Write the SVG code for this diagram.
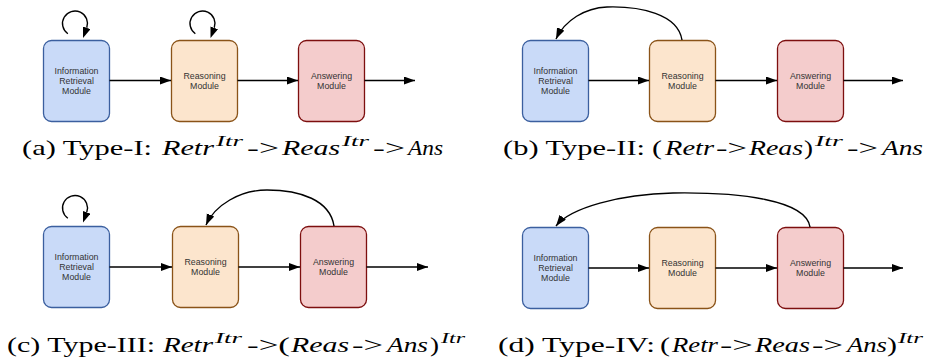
<svg xmlns="http://www.w3.org/2000/svg" width="934" height="362" viewBox="0 0 934 362">
<style>
.box{stroke-width:1.3}
.ir{fill:#c9daf8;stroke:#3b5f9f}
.rs{fill:#fce5cd;stroke:#8a5318}
.an{fill:#f4cccc;stroke:#7d0f0f}
.lbl{font-family:"Liberation Sans",Arial,sans-serif;font-size:8.8px;fill:#333;text-anchor:middle}
.edge{fill:none;stroke:#000;stroke-width:1.4}
.cap{font-family:"Liberation Serif","Times New Roman",serif;font-size:22px;fill:#000}
.it{font-style:italic}
.sup{font-style:italic;font-size:15px}
</style>
<defs>
<marker id="ah" markerUnits="userSpaceOnUse" markerWidth="12" markerHeight="10" refX="11" refY="4" orient="auto">
<path d="M0,0 L11,4 L0,8 z" fill="#000"/>
</marker>
<marker id="ahb" markerUnits="userSpaceOnUse" markerWidth="12" markerHeight="10" refX="0" refY="4" orient="auto">
<path d="M0,0 L11,4 L0,8 z" fill="#000"/>
</marker>
</defs>

<!-- Panel (a) -->
<g id="a-retr"><rect class="box ir" x="43.5" y="40.5" width="66" height="81" rx="8"/><text class="lbl" x="76.5" y="74">Information</text><text class="lbl" x="76.5" y="84">Retrieval</text><text class="lbl" x="76.5" y="94">Module</text></g>
<g id="a-reas"><rect class="box rs" x="171.5" y="40.5" width="66" height="81" rx="8"/><text class="lbl" x="204.5" y="79">Reasoning</text><text class="lbl" x="204.5" y="89">Module</text></g>
<g id="a-ans"><rect class="box an" x="298.5" y="40.5" width="66" height="81" rx="8"/><text class="lbl" x="331.5" y="79">Answering</text><text class="lbl" x="331.5" y="89">Module</text></g>

<!-- Panel (b) -->
<g id="b-retr"><rect class="box ir" x="522.5" y="40.5" width="66" height="81" rx="8"/><text class="lbl" x="555.5" y="74">Information</text><text class="lbl" x="555.5" y="84">Retrieval</text><text class="lbl" x="555.5" y="94">Module</text></g>
<g id="b-reas"><rect class="box rs" x="649.5" y="40.5" width="66" height="81" rx="8"/><text class="lbl" x="682.5" y="79">Reasoning</text><text class="lbl" x="682.5" y="89">Module</text></g>
<g id="b-ans"><rect class="box an" x="777.5" y="40.5" width="66" height="81" rx="8"/><text class="lbl" x="810.5" y="79">Answering</text><text class="lbl" x="810.5" y="89">Module</text></g>

<!-- Panel (c) -->
<g id="c-retr"><rect class="box ir" x="43.5" y="226.5" width="66" height="81" rx="8"/><text class="lbl" x="76.5" y="260">Information</text><text class="lbl" x="76.5" y="270">Retrieval</text><text class="lbl" x="76.5" y="280">Module</text></g>
<g id="c-reas"><rect class="box rs" x="172.5" y="226.5" width="66" height="81" rx="8"/><text class="lbl" x="205.5" y="265">Reasoning</text><text class="lbl" x="205.5" y="275">Module</text></g>
<g id="c-ans"><rect class="box an" x="300.5" y="226.5" width="66" height="81" rx="8"/><text class="lbl" x="333.5" y="265">Answering</text><text class="lbl" x="333.5" y="275">Module</text></g>

<!-- Panel (d) -->
<g id="d-retr"><rect class="box ir" x="522.5" y="227.5" width="66" height="81" rx="8"/><text class="lbl" x="555.5" y="261">Information</text><text class="lbl" x="555.5" y="271">Retrieval</text><text class="lbl" x="555.5" y="281">Module</text></g>
<g id="d-reas"><rect class="box rs" x="649.5" y="227.5" width="66" height="81" rx="8"/><text class="lbl" x="682.5" y="266">Reasoning</text><text class="lbl" x="682.5" y="276">Module</text></g>
<g id="d-ans"><rect class="box an" x="777.5" y="227.5" width="66" height="81" rx="8"/><text class="lbl" x="810.5" y="266">Answering</text><text class="lbl" x="810.5" y="276">Module</text></g>

<g id="connectors">
<!-- (a) -->
<path class="edge" d="M109.5,80.5 H171" marker-end="url(#ah)"/>
<path class="edge" d="M237.5,80.5 H298" marker-end="url(#ah)"/>
<path class="edge" d="M364.5,80.5 H415" marker-end="url(#ah)"/>
<path class="edge" d="M67.83,33.74 A12.5,12.5 0 1 1 86.75,27.78" marker-end="url(#ahb)"/>
<path class="edge" d="M195.33,33.74 A12.5,12.5 0 1 1 214.25,27.78" marker-end="url(#ahb)"/>
<!-- (b) -->
<path class="edge" d="M588.5,80.5 H649" marker-end="url(#ah)"/>
<path class="edge" d="M715.5,80.5 H777" marker-end="url(#ah)"/>
<path class="edge" d="M843.5,80.5 H903" marker-end="url(#ah)"/>
<path class="edge" d="M682,40 C678,14 640,6 607,7 C585,8 565,20 556,39" marker-end="url(#ah)"/>
<!-- (c) -->
<path class="edge" d="M109.5,267 H172" marker-end="url(#ah)"/>
<path class="edge" d="M238.5,267 H300" marker-end="url(#ah)"/>
<path class="edge" d="M366.5,267 H428" marker-end="url(#ah)"/>
<path class="edge" d="M67.83,218.24 A12.5,12.5 0 1 1 86.75,212.28" marker-end="url(#ahb)"/>
<path class="edge" d="M334,226 C330,200 300,190 267,190 C240,190 215,205 206,225" marker-end="url(#ah)"/>
<!-- (d) -->
<path class="edge" d="M588.5,268 H649" marker-end="url(#ah)"/>
<path class="edge" d="M715.5,268 H777" marker-end="url(#ah)"/>
<path class="edge" d="M843.5,268 H903" marker-end="url(#ah)"/>
<path class="edge" d="M810,227 C806,200 740,192 673,193 C620,194 570,208 556,226" marker-end="url(#ah)"/>
</g>

<g id="captions">
<text class="cap" y="155"><tspan x="22" textLength="130" lengthAdjust="spacingAndGlyphs">(a) Type-I:</tspan><tspan class="it" x="162" textLength="52" lengthAdjust="spacingAndGlyphs">Retr</tspan><tspan class="sup" x="216" y="146" textLength="27" lengthAdjust="spacingAndGlyphs">Itr</tspan><tspan x="247" y="155" textLength="32" lengthAdjust="spacingAndGlyphs">-&gt;</tspan><tspan class="it" x="282" textLength="58" lengthAdjust="spacingAndGlyphs">Reas</tspan><tspan class="sup" x="342" y="146" textLength="27" lengthAdjust="spacingAndGlyphs">Itr</tspan><tspan x="373" y="155" textLength="32" lengthAdjust="spacingAndGlyphs">-&gt;</tspan><tspan class="it" x="408" textLength="35" lengthAdjust="spacingAndGlyphs">Ans</tspan></text>
<text class="cap" y="155"><tspan x="503" textLength="142" lengthAdjust="spacingAndGlyphs">(b) Type-II:</tspan><tspan x="652" textLength="10" lengthAdjust="spacingAndGlyphs">(</tspan><tspan class="it" x="665" textLength="49" lengthAdjust="spacingAndGlyphs">Retr</tspan><tspan x="716" textLength="31" lengthAdjust="spacingAndGlyphs">-&gt;</tspan><tspan class="it" x="749" textLength="54" lengthAdjust="spacingAndGlyphs">Reas</tspan><tspan x="804" textLength="9" lengthAdjust="spacingAndGlyphs">)</tspan><tspan class="sup" x="815" y="146" textLength="28" lengthAdjust="spacingAndGlyphs">Itr</tspan><tspan x="847" y="155" textLength="31" lengthAdjust="spacingAndGlyphs">-&gt;</tspan><tspan class="it" x="882" textLength="41" lengthAdjust="spacingAndGlyphs">Ans</tspan></text>
<text class="cap" y="352"><tspan x="7" textLength="148" lengthAdjust="spacingAndGlyphs">(c) Type-III:</tspan><tspan class="it" x="163" textLength="50" lengthAdjust="spacingAndGlyphs">Retr</tspan><tspan class="sup" x="215" y="343" textLength="27" lengthAdjust="spacingAndGlyphs">Itr</tspan><tspan x="247" y="352" textLength="43" lengthAdjust="spacingAndGlyphs">-&gt;(</tspan><tspan class="it" x="291" textLength="58" lengthAdjust="spacingAndGlyphs">Reas</tspan><tspan x="352" textLength="31" lengthAdjust="spacingAndGlyphs">-&gt;</tspan><tspan class="it" x="387" textLength="41" lengthAdjust="spacingAndGlyphs">Ans</tspan><tspan x="430" textLength="9" lengthAdjust="spacingAndGlyphs">)</tspan><tspan class="sup" x="441" y="343" textLength="24" lengthAdjust="spacingAndGlyphs">Itr</tspan></text>
<text class="cap" y="352"><tspan x="498" textLength="157" lengthAdjust="spacingAndGlyphs">(d) Type-IV:</tspan><tspan x="660" textLength="10" lengthAdjust="spacingAndGlyphs">(</tspan><tspan class="it" x="672" textLength="46" lengthAdjust="spacingAndGlyphs">Retr</tspan><tspan x="720" textLength="33" lengthAdjust="spacingAndGlyphs">-&gt;</tspan><tspan class="it" x="755" textLength="55" lengthAdjust="spacingAndGlyphs">Reas</tspan><tspan x="812" textLength="31" lengthAdjust="spacingAndGlyphs">-&gt;</tspan><tspan class="it" x="847" textLength="40" lengthAdjust="spacingAndGlyphs">Ans</tspan><tspan x="887" textLength="10" lengthAdjust="spacingAndGlyphs">)</tspan><tspan class="sup" x="898" y="343" textLength="25" lengthAdjust="spacingAndGlyphs">Itr</tspan></text>
</g>
</svg>
